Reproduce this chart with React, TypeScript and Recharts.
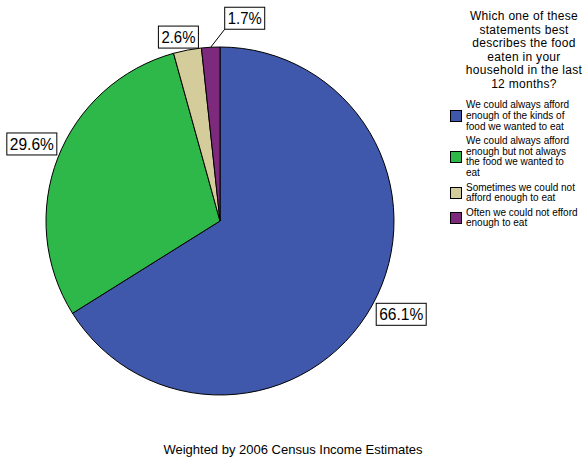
import { Legend, Pie, PieChart } from "recharts";

const CATEGORIES = [
  "We could always afford enough of the kinds of food we wanted to eat",
  "We could always afford enough but not always the food we wanted to eat",
  "Sometimes we could not afford enough to eat",
  "Often we could not efford enough to eat",
];
// legend lines as wrapped in the original
const LEGEND_LINES = [
  ["We could always afford", "enough of the kinds of", "food we wanted to eat"],
  ["We could always afford", "enough but not always", "the food we wanted to", "eat"],
  ["Sometimes we could not", "afford enough to eat"],
  ["Often we could not efford", "enough to eat"],
];
const PERCENTS = [66.1, 29.6, 2.6, 1.7];
const COLORS = ["#3f58ab", "#2eb84a", "#d4cd9b", "#7d2a7c"];
const TITLE_LINES = [
  "Which one of these",
  "statements best",
  "describes the food",
  "eaten in your",
  "household in the last",
  "12 months?",
];
const FOOTNOTE = "Weighted by 2006 Census Income Estimates";

// extra shift of a label box away from the slice edge (small slices get a leader line)
const LABEL_SHIFT: [number, number][] = [
  [4, -2],
  [-1, -3],
  [11, -2],
  [14, -18],
];

const data = CATEGORIES.map((name, i) => ({
  name,
  value: PERCENTS[i],
  fill: COLORS[i],
}));

const FONT = "'Liberation Sans', Arial, sans-serif";
const RAD = Math.PI / 180;

function renderLabel(props: any) {
  const { cx, cy, midAngle, outerRadius, index, value } = props;
  const ex = cx + outerRadius * Math.cos(-midAngle * RAD);
  const ey = cy + outerRadius * Math.sin(-midAngle * RAD);
  const [sx, sy] = LABEL_SHIFT[index];
  const px = ex + sx;
  const py = ey + sy;
  const text = `${value.toFixed(1)}%`;
  const tw = text.length === 5 ? 44 : 34;
  const w = tw + 6;
  const h = 22;
  const leader = Math.abs(sx) > 12 || Math.abs(sy) > 12;
  const right = leader ? sx > 0 : Math.cos(-midAngle * RAD) >= 0;
  const below = Math.sin(-midAngle * RAD) > 0;
  const x = right ? px : px - w;
  const y = below ? py : py - h;
  return (
    <g key={`lbl-${index}`}>
      {leader && <line x1={ex} y1={ey} x2={px} y2={py} stroke="#000" strokeWidth={1} />}
      <rect x={x} y={y} width={w} height={h} fill="#fff" stroke="#000" strokeWidth={1} />
      <text
        x={x + w / 2}
        y={y + h / 2 + 6}
        textAnchor="middle"
        fontFamily={FONT}
        fontSize={16}
        textLength={tw}
        lengthAdjust="spacingAndGlyphs"
        fill="#000"
      >
        {text}
      </text>
    </g>
  );
}

function LegendContent() {
  return (
    <div style={{ fontFamily: FONT, color: "#000" }}>
      <div
        style={{
          textAlign: "center",
          fontSize: 12,
          lineHeight: "13.5px",
          letterSpacing: "0.3px",
          marginLeft: 12,
          paddingTop: 2,
          whiteSpace: "nowrap",
        }}
      >
        {TITLE_LINES.map((l) => (
          <div key={l}>{l}</div>
        ))}
      </div>
      <div style={{ marginTop: 9 }}>
        {LEGEND_LINES.map((lines, i) => (
          <div
            key={i}
            style={{ display: "flex", alignItems: "center", marginBottom: 3.5 }}
          >
            <div
              style={{
                width: 10,
                height: 10,
                background: COLORS[i],
                border: "1px solid #000",
                marginRight: 4,
                flexShrink: 0,
              }}
            />
            <div style={{ fontSize: 10, lineHeight: "10.8px", whiteSpace: "nowrap" }}>
              {lines.map((l) => (
                <div key={l}>{l}</div>
              ))}
            </div>
          </div>
        ))}
      </div>
    </div>
  );
}

export default function App() {
  return (
    <div
      style={{
        position: "absolute",
        left: 0,
        top: 0,
        width: 586,
        height: 459,
        background: "#fff",
      }}
    >
      <PieChart width={586} height={459} margin={{ top: 0, right: 0, bottom: 0, left: 0 }}>
        <Pie
          data={data}
          dataKey="value"
          nameKey="name"
          cx={220}
          cy={221}
          outerRadius={174}
          startAngle={90}
          endAngle={-270}
          stroke="#000"
          strokeWidth={1}
          label={renderLabel}
          labelLine={false}
          isAnimationActive={false}
        />
        <Legend
          layout="vertical"
          align="right"
          verticalAlign="top"
          content={() => <LegendContent />}
          wrapperStyle={{ left: 450, top: 8, width: 136 }}
        />
      </PieChart>
      <div
        style={{
          position: "absolute",
          left: 0,
          width: 586,
          top: 442,
          textAlign: "center",
          fontFamily: FONT,
          fontSize: 13,
          color: "#000",
        }}
      >
        {FOOTNOTE}
      </div>
    </div>
  );
}
